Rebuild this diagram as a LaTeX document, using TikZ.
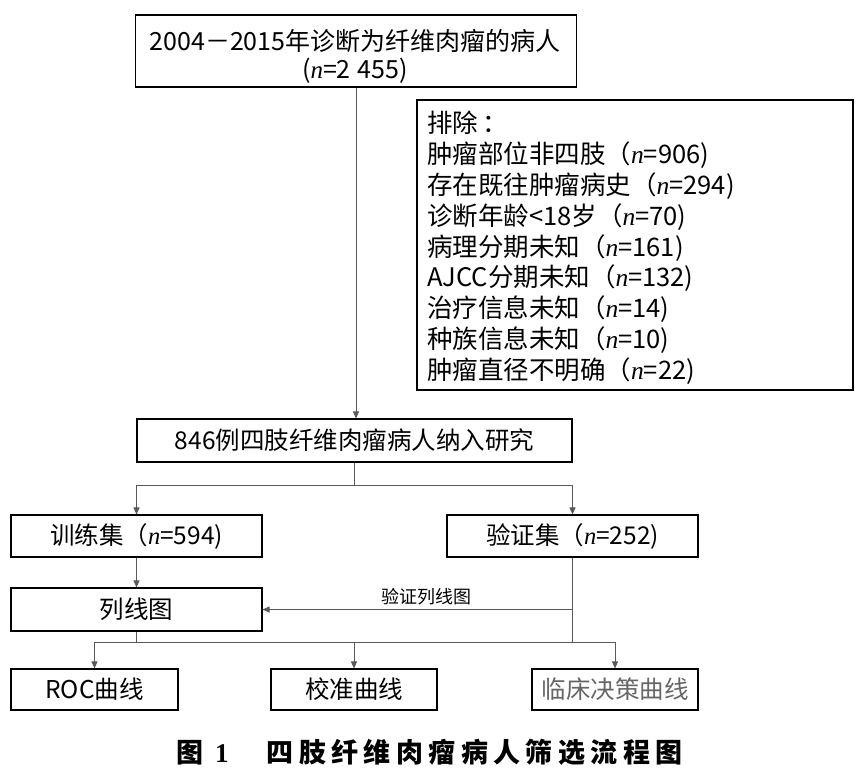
\documentclass[tikz,border=0pt]{standalone}
\usepackage{fontspec}
\setmainfont{Noto Sans CJK SC}
\newfontfamily\nfont{Liberation Serif}
\newcommand\nv{{\nfont\itshape n}}
\usetikzlibrary{arrows.meta}
\begin{document}
\begin{tikzpicture}[x=1pt,y=-1pt,
 box/.style={draw=black, line width=1.1pt, rectangle, inner sep=0pt, align=center, font=\fontsize{24.5}{28}\selectfont},
 conn/.style={draw=black!65, line width=0.9pt},
 arr/.style={conn, -{Triangle[length=7pt,width=6pt]}},
 lbl/.style={font=\fontsize{18}{20}\selectfont}]
\useasboundingbox[fill=white] (0,0) rectangle (864,774);

\node[box, minimum width=441pt, minimum height=72pt] (top) at (356,51) {};
\node[align=center, inner sep=0pt, font=\fontsize{25}{28}\selectfont] (toptext) at (355,56) {2004－2015年诊断为纤维肉瘤的病人\\(\nv=2\hspace{7pt}455)};

\node[box, minimum width=436pt, minimum height=290pt] (excl) at (635,245) {};
\node[anchor=north west, align=left, inner sep=0pt, font=\fontsize{25.5}{30.8}\selectfont] (excltext) at (427,111)
{排除\hspace{4pt}：\\
肿瘤部位非四肢（\nv=906)\\
存在既往肿瘤病史（\nv=294)\\
诊断年龄<18岁（\nv=70)\\
病理分期未知（\nv=161)\\
AJCC分期未知（\nv=132)\\
治疗信息未知（\nv=14)\\
种族信息未知（\nv=10)\\
肿瘤直径不明确（\nv=22)};

\node[box, minimum width=435pt, minimum height=43pt] (incl) at (354.5,440.5) {846例四肢纤维肉瘤病人纳入研究};
\node[box, minimum width=251pt, minimum height=42pt] (train) at (136.5,536) {训练集（\nv=594)};
\node[box, minimum width=251pt, minimum height=42pt] (valid) at (572.5,536) {验证集（\nv=252)};
\node[box, minimum width=251pt, minimum height=43pt] (nomo) at (136.5,609.5) {列线图};
\node[box, minimum width=167pt, minimum height=41pt] (roc) at (94.5,689.5) {ROC曲线};
\node[box, minimum width=166pt, minimum height=41pt] (calib) at (354,689.5) {校准曲线};
\node[box, minimum width=166pt, minimum height=41pt, text=black!60] (dca) at (615,689.5) {临床决策曲线};

\draw[arr] (top.south) -- (top.south |- incl.north);
\coordinate (split) at (incl.south |- 0,485);
\draw[conn] (incl.south) -- (split);
\draw[arr] (split) -| (train.north);
\draw[arr] (split) -| (valid.north);
\draw[arr] (train.south) -- (nomo.north);
\coordinate (vb) at (valid.south |- 0,642);
\draw[conn] (valid.south) -- (vb);
\draw[arr] (valid.south |- nomo.east) -- node[lbl, above, pos=0.47, yshift=1pt] {验证列线图} (nomo.east);
\coordinate (nb) at (nomo.south |- 0,642);
\draw[conn] (nomo.south) -- (nb);
\draw[conn] (roc.north |- 0,642) -- (dca.north |- 0,642);
\draw[arr] (roc.north |- 0,642) -- (roc.north);
\draw[arr] (calib.north |- 0,642) -- (calib.north);
\draw[arr] (dca.north |- 0,642) -- (dca.north);

\node[anchor=west, inner sep=0pt, font=\fontsize{27}{30}\selectfont\bfseries] (cap) at (176,752) {图\hspace{12pt}{\nfont\bfseries 1}\hspace{38pt}{\addfontfeatures{LetterSpace=20}四肢纤维肉瘤病人筛选流程图}};
\end{tikzpicture}
\end{document}
